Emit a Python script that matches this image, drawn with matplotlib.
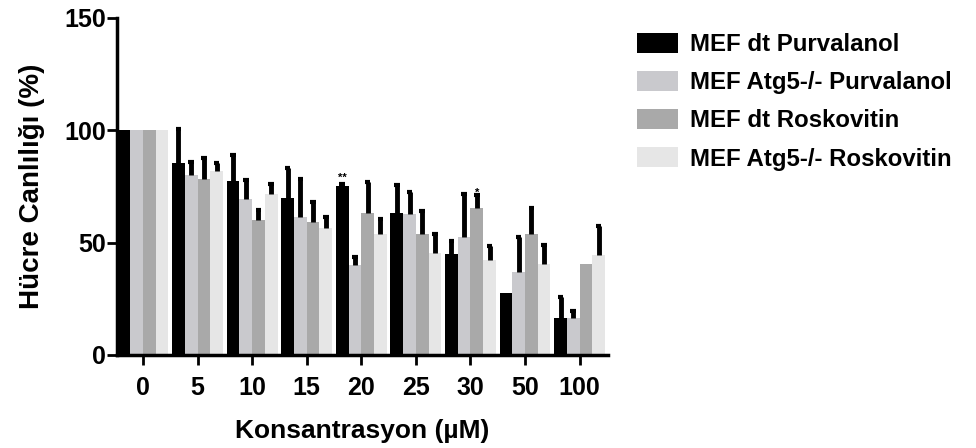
import numpy as np
import matplotlib
matplotlib.use("Agg")
import matplotlib.pyplot as plt

plt.rcParams['font.family'] = ['Liberation Sans', 'DejaVu Sans']
plt.rcParams['font.weight'] = 'bold'

# Veriler
konsantrasyon = ["0", "5", "10", "15", "20", "25", "30", "50", "100"]
seriler = ["MEF dt Purvalanol", "MEF Atg5-/- Purvalanol",
           "MEF dt Roskovitin", "MEF Atg5-/- Roskovitin"]

dt_purv = [100, 85.5, 77.3, 70.0, 75.1, 63.3, 44.9, 27.7, 16.3]
atg5_purv = [100, 80.0, 69.2, 61.2, 40.0, 62.7, 52.6, 37.0, 16.3]
dt_rosk = [100, 78.5, 60.0, 59.3, 63.3, 53.8, 65.5, 53.8, 40.3]
atg5_rosk = [100, 82.0, 71.8, 56.3, 54.0, 45.2, 42.2, 40.4, 44.4]

dt_purv_err = [0, 15.0, 11.6, 13.4, 1.0, 12.3, 5.8, 0, 9.6]
atg5_purv_err = [0, 6.0, 8.6, 17.3, 3.7, 9.9, 19.2, 15.6, 3.4]
dt_rosk_err = [0, 9.0, 4.4, 8.8, 13.8, 10.3, 5.6, 11.8, 0]
atg5_rosk_err = [0, 3.5, 4.5, 4.9, 6.7, 8.6, 6.2, 8.5, 12.9]

renkler = ["#000000", "#c9c9cd", "#a9a9a9", "#e6e6e6"]

degerler = [dt_purv, atg5_purv, dt_rosk, atg5_rosk]
hatalar = [dt_purv_err, atg5_purv_err, dt_rosk_err, atg5_rosk_err]

fig = plt.figure(figsize=(9.76, 4.48), dpi=100)
ax = fig.add_axes([0.1199, 0.2076, 0.503, 0.7524])

x = np.arange(len(konsantrasyon))
w = 0.233
for i in range(4):
    pos = x + (i - 1.5) * w
    ax.bar(pos, degerler[i], width=w, color=renkler[i], label=seriler[i], zorder=2)
    err = np.array(hatalar[i])
    vals = np.array(degerler[i])
    m = err > 0
    # sadece yukari hata cubugu, alt kapak yok
    ax.vlines(pos[m], vals[m], vals[m] + err[m], color="black", lw=3.5, zorder=3)
    ax.hlines(vals[m] + err[m], pos[m] - 0.05, pos[m] + 0.05, color="black", lw=3, zorder=3)

# yildizlar
ax.text(x[4] - 1.5 * w, dt_purv[4] + 1.5, "**", ha="center", va="bottom", fontsize=8)
ax.text(x[6] + 0.5 * w, dt_rosk[6] + 4.5, "*", ha="center", va="bottom", fontsize=8)

ax.set_ylim(0, 150)
ax.set_xlim(-0.476, 8.52)
ax.set_yticks([0, 50, 100, 150])
ax.set_xticks(x)
ax.set_xticklabels(konsantrasyon)
ax.tick_params(axis="both", labelsize=18, width=2, length=7, direction="out")
ax.tick_params(axis="x", pad=8)
ax.tick_params(axis="y", pad=1)
for t in ax.get_xticklabels() + ax.get_yticklabels():
    t.set_fontweight("bold")

for s in ["top", "right"]:
    ax.spines[s].set_visible(False)
for s in ["left", "bottom"]:
    ax.spines[s].set_linewidth(2.5)

ax.set_xlabel("Konsantrasyon (µM)", fontsize=19, fontweight="bold", labelpad=14)
ax.set_ylabel("Hücre Canlılığı (%)", fontsize=20, fontweight="bold", labelpad=14)

fig.legend(loc="upper left", bbox_to_anchor=(0.631, 0.975), frameon=False,
           prop={"size": 17.3, "weight": "bold"}, handlelength=1.7, handleheight=0.9,
           labelspacing=0.62, handletextpad=0.5)

fig.savefig("out.png", dpi=100)
